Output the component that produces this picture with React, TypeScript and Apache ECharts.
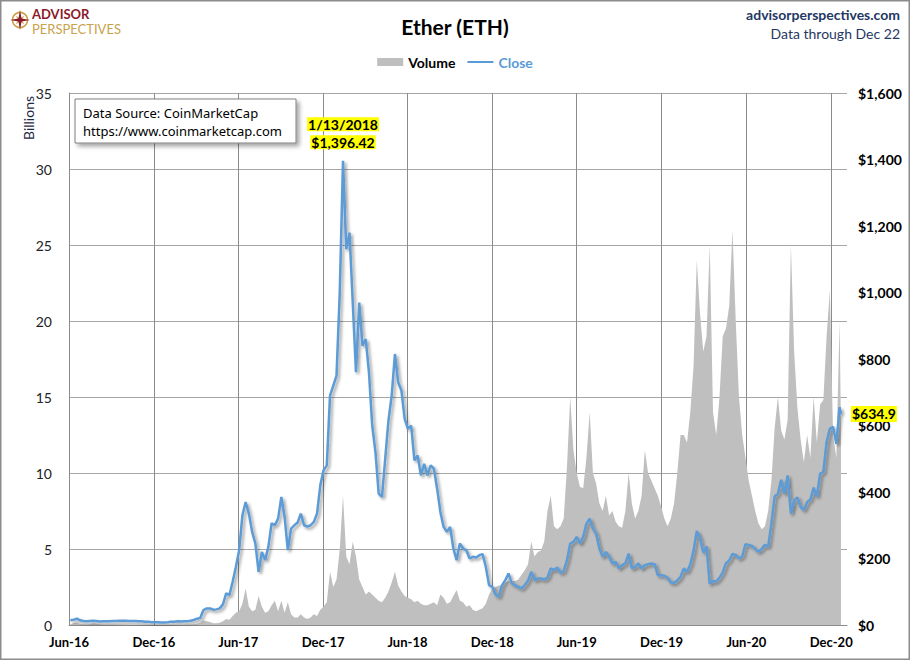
import React, { useEffect, useRef } from "react";
import * as echarts from "echarts";

// ---------- data (weekly samples) ----------
const FIRST_SAMPLE = Date.UTC(2016, 5, 4);
const LAST_SAMPLE = Date.UTC(2020, 11, 22);
const WEEK = 7 * 86400000;

// ETH close, US$
const close2016 = [14, 16, 19, 14, 12, 11, 12, 13, 12, 10.5, 11, 11, 11.5, 12, 12, 13, 13, 13, 12, 12, 12, 11, 11, 10, 9.5, 8.5, 8, 8, 7.8, 7.3, 8];
const close2017 = [10, 10, 11, 10.5, 11, 11.5, 12.7, 15, 19, 21, 45, 50, 50, 46, 47, 50, 62, 95, 90, 130, 175, 225, 330, 370, 335, 280, 245, 160, 220, 195, 235, 306, 300, 320, 385, 325, 225, 290, 300, 308, 335, 300, 296, 300, 310, 335, 420, 465, 480, 690, 720, 750];
const close2018 = [1000, 1396.42, 1130, 1180, 970, 760, 970, 840, 860, 760, 600, 520, 395, 385, 500, 615, 690, 815, 730, 705, 620, 590, 600, 495, 510, 450, 485, 450, 480, 470, 410, 340, 295, 280, 295, 230, 195, 245, 230, 225, 200, 205, 203, 210, 213, 175, 120, 115, 92, 85, 120, 135];
const close2019 = [155, 125, 120, 115, 110, 120, 133, 160, 135, 140, 140, 137, 142, 170, 165, 173, 157, 162, 195, 245, 250, 265, 245, 265, 305, 320, 290, 275, 230, 205, 220, 205, 185, 190, 170, 180, 185, 215, 170, 175, 185, 170, 180, 183, 185, 183, 150, 150, 148, 142, 128, 127];
const close2020 = [134, 145, 170, 160, 182, 223, 283, 262, 218, 237, 124, 132, 131, 142, 158, 186, 194, 214, 211, 200, 206, 243, 241, 238, 229, 220, 229, 241, 236, 305, 387, 394, 437, 395, 450, 335, 374, 384, 355, 346, 370, 377, 413, 386, 455, 460, 550, 590, 596, 545, 655, 634.9];

// Volume, US$ billions
const volume2016 = [0.05, 0.12, 0.15, 0.08, 0.05, 0.04, 0.05, 0.1, 0.08, 0.05, 0.04, 0.03, 0.03, 0.03, 0.03, 0.03, 0.03, 0.03, 0.02, 0.02, 0.02, 0.02, 0.02, 0.02, 0.02, 0.02, 0.02, 0.02, 0.02, 0.02, 0.02];
const volume2017 = [0.02, 0.02, 0.02, 0.02, 0.02, 0.03, 0.03, 0.05, 0.08, 0.15, 0.3, 0.25, 0.2, 0.12, 0.12, 0.15, 0.25, 0.4, 0.35, 0.6, 0.8, 0.9, 1.4, 2.4, 1.2, 0.9, 1.0, 1.9, 1.2, 0.8, 0.9, 1.3, 1.6, 0.9, 1.6, 0.8, 1.5, 0.7, 0.5, 0.5, 0.7, 0.5, 0.4, 0.5, 0.7, 0.6, 1.0, 1.2, 1.5, 3.5, 2.5, 3.0];
const volume2018 = [5.0, 8.5, 4.5, 4.0, 5.5, 4.5, 3.0, 2.5, 2.0, 2.2, 2.0, 1.8, 1.6, 1.5, 1.8, 2.2, 2.8, 3.5, 2.6, 2.2, 1.9, 1.8, 1.7, 1.5, 1.6, 1.4, 1.3, 1.3, 1.4, 1.5, 1.3, 2.0, 1.8, 1.4, 1.5, 1.9, 2.3, 1.6, 1.5, 1.2, 1.3, 1.0, 0.9, 1.0, 1.1, 1.4, 2.0, 2.4, 2.5, 2.6, 2.6, 2.8];
const volume2019 = [2.9, 2.9, 2.9, 3.0, 3.3, 3.6, 4.0, 5.5, 4.5, 4.8, 4.9, 5.5, 7.5, 8.5, 6.5, 6.3, 6.5, 7.0, 10.4, 15.0, 11.5, 10.0, 9.1, 9.0, 11.0, 14.0, 10.0, 9.3, 8.0, 7.5, 8.5, 7.2, 7.5, 6.8, 6.5, 6.4, 7.5, 10.0, 8.0, 7.0, 7.5, 8.5, 11.5, 10.0, 9.5, 9.0, 8.5, 7.8, 7.0, 6.5, 7.0, 8.0];
const volume2020 = [10.0, 12.5, 12.5, 12.0, 14.0, 17.0, 24.0, 20.5, 18.0, 19.0, 25.0, 14.0, 12.5, 15.0, 19.0, 19.5, 21.0, 26.0, 20.0, 15.0, 12.5, 11.0, 9.5, 8.5, 7.5, 6.7, 6.3, 6.5, 7.5, 9.5, 13.0, 15.0, 12.8, 12.2, 13.5, 25.0, 18.0, 14.3, 12.2, 10.7, 12.5, 11.0, 15.0, 12.0, 14.5, 14.8, 19.0, 22.0, 12.5, 11.0, 20.0, 13.0];

const closeValues = [...close2016, ...close2017, ...close2018, ...close2019, ...close2020];
const volumeValues = [...volume2016, ...volume2017, ...volume2018, ...volume2019, ...volume2020];
const sampleDates = closeValues.map((_, i) =>
  i === closeValues.length - 1 ? LAST_SAMPLE : FIRST_SAMPLE + i * WEEK
);

// x axis ticks
const tickDates = [
  Date.UTC(2016, 5, 1), Date.UTC(2016, 11, 1), Date.UTC(2017, 5, 1), Date.UTC(2017, 11, 1),
  Date.UTC(2018, 5, 1), Date.UTC(2018, 11, 1), Date.UTC(2019, 5, 1), Date.UTC(2019, 11, 1),
  Date.UTC(2020, 5, 1), Date.UTC(2020, 11, 1),
];
const tickLabels = ["Jun-16", "Dec-16", "Jun-17", "Dec-17", "Jun-18", "Dec-18", "Jun-19", "Dec-19", "Jun-20", "Dec-20"];
const X_MIN = Date.UTC(2016, 5, 1);
const X_MAX = Date.UTC(2021, 0, 4);
const VOL_MAX = 35;
const VOL_STEP = 5;
const PRICE_MAX = 1600;
const PRICE_STEP = 200;

const FONT = "Lato";
const LINE_ICON = "path://M0,0 L0.05,0 L0.05,0.05 L0,0.05 Z M0,2.9 L26,2.9 L26,5.1 L0,5.1 Z M0,7.95 L0.05,7.95 L0.05,8 L0,8 Z";

function starPoints(cx: number, cy: number, outer: number, inner: number, n: number, rot: number) {
  const pts: number[][] = [];
  for (let k = 0; k < n * 2; k++) {
    const r = k % 2 === 0 ? outer : inner;
    const a = rot + (Math.PI * k) / n;
    pts.push([cx + r * Math.sin(a), cy - r * Math.cos(a)]);
  }
  return pts;
}

export default function App() {
  const ref = useRef<HTMLDivElement>(null);

  useEffect(() => {
    document.body.style.margin = "0";
    if (!ref.current) return;
    const chart = echarts.init(ref.current, undefined, { renderer: "svg" });

    let peakIndex = 0;
    closeValues.forEach((v, i) => {
      if (v > closeValues[peakIndex]) peakIndex = i;
    });
    const pd = new Date(sampleDates[peakIndex]);
    const peakDateText = `${pd.getUTCMonth() + 1}/${pd.getUTCDate()}/${pd.getUTCFullYear()}`;
    const peakValText =
      "$" + closeValues[peakIndex].toLocaleString("en-US", { minimumFractionDigits: 2, maximumFractionDigits: 2 });
    const lastClose = closeValues[closeValues.length - 1];

    const closeData = sampleDates.map((d, i) => [d, closeValues[i]]);
    const volumeData = sampleDates.map((d, i) => [d, volumeValues[i]]);

    chart.setOption({
      animation: false,
      backgroundColor: "#ffffff",
      title: {
        text: "Ether (ETH)",
        left: "center",
        top: 11,
        textStyle: { fontSize: 21, fontWeight: "bold", fontFamily: FONT, color: "#000" },
      },
      legend: {
        top: 50,
        left: "center",
        selectedMode: false,
        itemWidth: 26,
        itemHeight: 8,
        itemGap: 12,
        textStyle: { fontWeight: "bold", fontSize: 14, fontFamily: FONT, color: "#000" },
        data: [
          { name: "Volume", icon: "rect", itemStyle: { color: "#BFBFBF" } },
          { name: "Close", icon: LINE_ICON, itemStyle: { color: "#5B9BD5", shadowBlur: 0, shadowOffsetX: 0, shadowOffsetY: 0 }, textStyle: { color: "#5B9BD5" } },
        ],
      },
      grid: { left: 69, right: 63, top: 93, bottom: 35, containLabel: false, outerBoundsMode: "none" },
      xAxis: {
        type: "value",
        min: X_MIN,
        max: X_MAX,
        axisLine: { show: true, lineStyle: { color: "#8c8c8c", width: 1 } },
        axisTick: { show: false },
        splitLine: { show: false },
        axisLabel: {
          customValues: tickDates,
          formatter: (v: number) => {
            const k = tickDates.indexOf(v);
            return k >= 0 ? tickLabels[k] : "";
          },
          showMinLabel: true,
          showMaxLabel: true,
          hideOverlap: false,
          fontWeight: "bold",
          fontSize: 13,
          fontFamily: FONT,
          color: "#000",
          margin: 10,
        },
      },
      yAxis: [
        {
          type: "value",
          min: 0,
          max: VOL_MAX,
          interval: VOL_STEP,
          position: "left",
          axisLine: { show: true, lineStyle: { color: "#8c8c8c" } },
          axisTick: { show: false },
          axisLabel: { fontSize: 14, fontFamily: FONT, color: "#222", margin: 17 },
          splitLine: { show: true, lineStyle: { color: "#a6a6a6", width: 1 } },
        },
        {
          type: "value",
          min: 0,
          max: PRICE_MAX,
          interval: PRICE_STEP,
          position: "right",
          axisLine: { show: false },
          axisTick: { show: false },
          splitLine: { show: false },
          axisLabel: {
            formatter: (v: number) => "$" + v.toLocaleString("en-US"),
            fontSize: 14,
            fontWeight: "bold",
            fontFamily: FONT,
            color: "#000",
            margin: 11,
          },
        },
      ],
      series: [
        {
          name: "Volume",
          type: "line",
          yAxisIndex: 0,
          data: volumeData,
          symbol: "none",
          showSymbol: false,
          lineStyle: { width: 0, color: "#BFBFBF" },
          itemStyle: { color: "#BFBFBF" },
          areaStyle: { color: "#BFBFBF", opacity: 1 },
          z: 2,
          silent: true,
          markLine: {
            silent: true,
            z: 1,
            symbol: ["none", "none"],
            label: { show: false },
            lineStyle: { color: "#8c8c8c", type: "solid", width: 1 },
            data: tickDates.map((t) => ({ xAxis: t })),
          },
        },
        {
          name: "Close",
          type: "line",
          yAxisIndex: 1,
          data: closeData,
          symbol: "none",
          showSymbol: false,
          z: 3,
          silent: true,
          lineStyle: {
            color: "#5B9BD5",
            width: 2.5,
            shadowColor: "rgba(0,0,0,0.38)",
            shadowBlur: 3,
            shadowOffsetX: 2,
            shadowOffsetY: 2,
          },
          itemStyle: { color: "#5B9BD5" },
          endLabel: {
            show: true,
            formatter: () => "$" + lastClose.toFixed(1),
            backgroundColor: "#FFFF00",
            color: "#000",
            fontWeight: "bold",
            fontSize: 14,
            fontFamily: FONT,
            distance: 10,
            padding: [1, 1],
          },
          markPoint: {
            silent: true,
            symbol: "circle",
            symbolSize: 1,
            itemStyle: { color: "rgba(0,0,0,0)" },
            data: [
              {
                coord: [sampleDates[peakIndex], closeValues[peakIndex]],
                label: {
                  show: true,
                  position: "top",
                  distance: 9,
                  formatter: `{a|${peakDateText}}\n{a|${peakValText}}`,
                  rich: {
                    a: {
                      backgroundColor: "#FFFF00",
                      fontWeight: "bold",
                      fontSize: 14,
                      fontFamily: FONT,
                      color: "#000",
                      lineHeight: 18,
                      padding: [0, 1],
                    },
                  },
                },
              },
            ],
          },
        },
      ],
      graphic: [
        {
          type: "rect",
          silent: true,
          shape: { x: 0.75, y: 0.75, width: 908.5, height: 658.5 },
          style: { fill: "none", stroke: "#8c8c8c", lineWidth: 1.5 },
        },
        {
          type: "circle",
          silent: true,
          shape: { cx: 20, cy: 20, r: 7.5 },
          style: { fill: "none", stroke: "#C9A24A", lineWidth: 1.6 },
        },
        {
          type: "polygon",
          silent: true,
          shape: { points: starPoints(20, 20, 6.5, 1.6, 4, Math.PI / 4) },
          style: { fill: "#C9A24A" },
        },
        {
          type: "polygon",
          silent: true,
          shape: { points: starPoints(20, 20, 10, 2.2, 4, 0) },
          style: { fill: "#8B1A2A" },
        },
        {
          type: "text",
          silent: true,
          x: 32,
          y: 14,
          style: { text: "ADVISOR", fill: "#8B1A2A", font: `bold 13px ${FONT}`, verticalAlign: "middle" },
        },
        {
          type: "text",
          silent: true,
          x: 32,
          y: 28.5,
          style: { text: "PERSPECTIVES", fill: "#C9A24A", font: `13px ${FONT}`, verticalAlign: "middle" },
        },
        {
          type: "text",
          silent: true,
          x: 900,
          y: 14,
          style: { text: "advisorperspectives.com", fill: "#1F3864", font: `bold 14px ${FONT}`, align: "right", verticalAlign: "middle" },
        },
        {
          type: "text",
          silent: true,
          x: 900,
          y: 33,
          style: { text: "Data through Dec 22", fill: "#1F3864", font: `14px ${FONT}`, align: "right", verticalAlign: "middle" },
        },
        {
          type: "text",
          silent: true,
          x: 28,
          y: 118,
          rotation: Math.PI / 2,
          style: { text: "Billions", fill: "#1F2A44", font: `14px ${FONT}`, align: "center", verticalAlign: "middle" },
        },
        {
          type: "rect",
          silent: true,
          shape: { x: 75, y: 99, width: 221, height: 44 },
          style: {
            fill: "#ffffff",
            stroke: "#808080",
            lineWidth: 1,
            shadowColor: "rgba(0,0,0,0.35)",
            shadowBlur: 4,
            shadowOffsetX: 3,
            shadowOffsetY: 3,
          },
          z: 10,
        },
        {
          type: "text",
          silent: true,
          x: 83,
          y: 113,
          z: 11,
          style: { text: "Data Source: CoinMarketCap", fill: "#000", font: `13px 'Noto Sans'`, verticalAlign: "middle" },
        },
        {
          type: "text",
          silent: true,
          x: 83,
          y: 131,
          z: 11,
          style: { text: "https://www.coinmarketcap.com", fill: "#000", font: `13px 'Noto Sans'`, verticalAlign: "middle" },
        },
      ],
    });

    return () => chart.dispose();
  }, []);

  return <div ref={ref} style={{ width: 910, height: 660 }} />;
}
